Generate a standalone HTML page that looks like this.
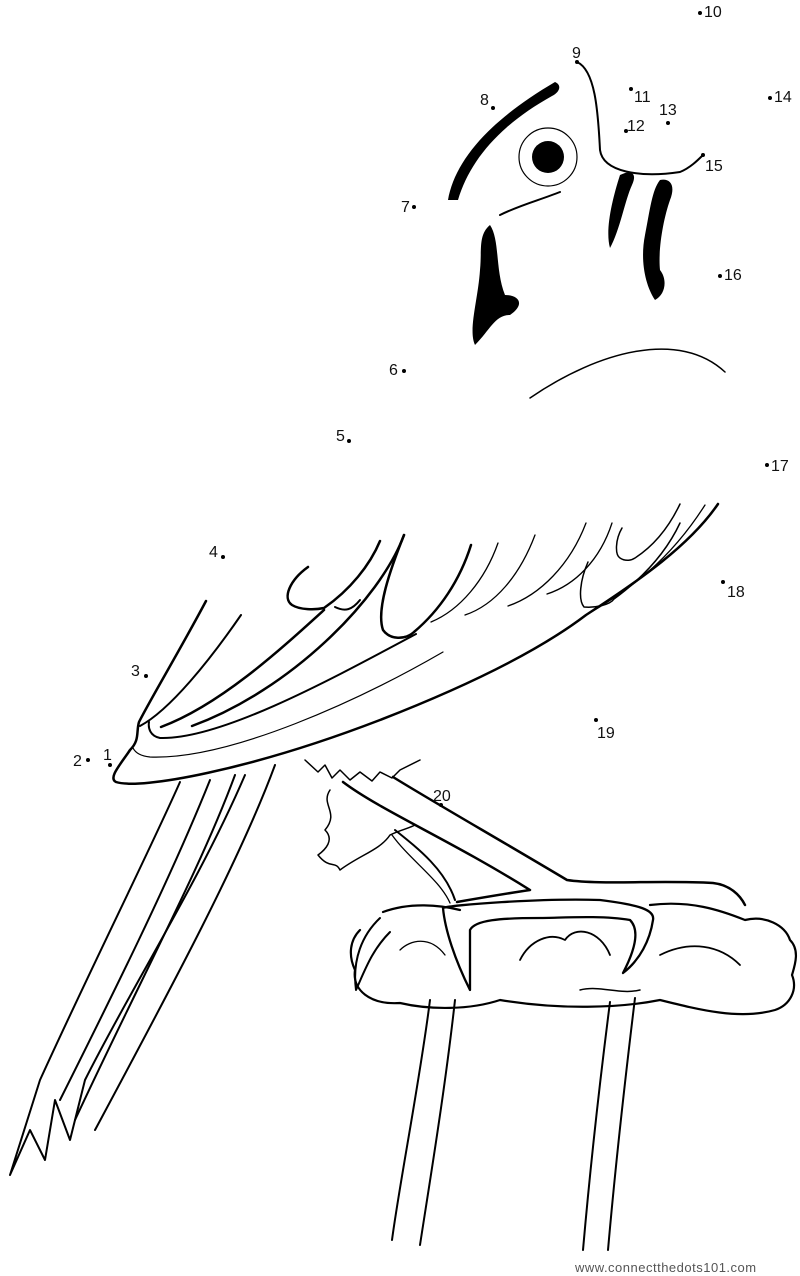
<!DOCTYPE html>
<html><head><meta charset="utf-8"><style>
html,body{margin:0;padding:0;background:#fff;}
svg{display:block}
text{font-family:"Liberation Sans",sans-serif;font-size:16px;fill:#111}
</style></head><body>
<svg width="800" height="1276" viewBox="0 0 800 1276" xmlns="http://www.w3.org/2000/svg">
<g fill="none" stroke="#000" stroke-width="2" stroke-linecap="round" stroke-linejoin="round">
<!-- beak / head -->
<path d="M577,62 C595,70 598,110 600,150 C603,172 640,178 680,172 C690,168 698,160 703,155"/>
<path d="M500,215 C520,205 540,200 560,192"/>
<circle cx="548" cy="157" r="29" stroke-width="1.2"/>
<!-- breast arc -->
<path d="M530,398 C600,350 680,330 725,372" stroke-width="1.5"/>
<!-- wing -->
<path d="M206,601 C180,650 150,700 139,722 C136,732 140,740 130,750 C120,765 108,778 116,782 C140,790 250,770 380,720 C470,685 540,650 586,615 C640,580 690,545 718,504" stroke-width="2.5"/>
<path d="M241,615 C210,660 170,710 140,726" />
<path d="M324,610 C280,650 220,705 161,727" stroke-width="2.5"/>
<path d="M404,535 C380,600 290,690 192,726" stroke-width="2.5"/>
<path d="M416,634 C330,680 220,740 160,738 C150,736 148,728 149,722" stroke-width="2"/>
<path d="M443,652 C360,700 230,760 150,757 C140,756 135,752 133,748" stroke-width="1.2"/>
<path d="M308,567 C290,580 282,598 292,605 C300,610 315,610 324,608 C350,590 370,565 380,541" stroke-width="2.5"/>
<path d="M335,607 C345,612 352,610 360,600"/>
<path d="M404,535 C390,570 376,610 383,630 C390,640 405,640 414,632 C440,610 460,580 471,545" stroke-width="2.5"/>
<path d="M431,622 C460,610 485,580 498,543" stroke-width="1.3"/>
<path d="M465,615 C495,605 520,575 535,535" stroke-width="1.3"/>
<path d="M508,606 C540,595 570,565 586,523" stroke-width="1.3"/>
<path d="M547,594 C575,585 600,560 612,523" stroke-width="1.3"/>
<path d="M588,562 C580,580 578,600 584,607 C595,608 610,605 614,599 C640,580 665,555 680,523" stroke-width="1.5"/>
<path d="M622,528 C615,540 615,555 620,558 C626,562 632,560 635,558 C655,545 670,525 680,504" stroke-width="1.5"/>
<path d="M586,615 C630,590 670,560 705,505" stroke-width="1.3"/>
<!-- tail -->
<path d="M180,782 C150,850 90,970 40,1080 L10,1175 L30,1130 L45,1160 L55,1100 L70,1140 L85,1080 C130,990 200,880 245,775"/>
<path d="M210,780 C170,880 110,1000 60,1100"/>
<path d="M275,765 C240,860 170,990 95,1130"/>
<path d="M235,775 C200,870 140,980 75,1120"/>
<!-- feathers under wing -->
<path d="M305,760 L318,772 L325,765 L332,778 L340,770 L350,780 L360,772 L372,781 L380,772 L392,778 L400,770 L420,760" stroke-width="1.5"/>
<path d="M330,790 C320,805 340,812 325,830 C335,840 325,850 318,855 C330,870 335,860 340,870 C360,855 380,850 390,835 C400,830 410,828 415,825" stroke-width="1.5"/>
<!-- legs -->
<path d="M393,777 C430,800 500,840 567,880 C600,885 660,880 713,883 C730,885 740,895 745,905" stroke-width="2.5"/>
<path d="M343,782 C380,810 450,840 530,890 C510,893 480,898 457,902" stroke-width="2.5"/>
<path d="M395,830 C420,850 445,870 455,900"/>
<path d="M392,835 C410,860 440,880 450,903" stroke-width="1.3"/>
<path d="M443,908 C450,905 540,898 600,900 C640,905 655,910 653,920 C650,940 640,960 623,973 C635,950 640,930 630,920 C600,915 560,918 540,918 C500,918 475,920 470,930 C470,960 470,980 470,990 C455,960 445,930 443,908 Z" stroke-width="2.3"/>
<path d="M380,918 C362,935 352,960 356,990 C365,970 372,950 390,932"/>
<!-- perch top blob -->
<path d="M383,912 C410,902 440,905 460,910 M650,905 C690,900 720,910 745,920 C765,915 785,925 790,940 C800,950 795,965 792,975 C798,990 790,1005 775,1010 C740,1020 700,1010 660,1000 C620,1008 560,1010 500,1000 C470,1010 430,1010 400,1003 C370,1005 352,990 355,970 C348,955 350,940 360,930" stroke-width="2.2"/>
<path d="M520,960 C530,940 550,932 565,940 C575,925 600,930 610,955" stroke-width="1.8"/>
<path d="M400,950 C410,940 430,935 445,955" stroke-width="1.3"/>
<path d="M660,955 C690,940 720,945 740,965" stroke-width="1.8"/>
<path d="M580,990 C600,985 620,995 640,990" stroke-width="1.5"/>
<!-- posts -->
<path d="M430,1000 C420,1080 400,1180 392,1240"/>
<path d="M455,1000 C445,1090 430,1180 420,1245"/>
<path d="M610,1002 C600,1080 590,1170 583,1250"/>
<path d="M635,998 C625,1080 615,1170 608,1250"/>
</g>
<g fill="#000" stroke="none">
<circle cx="548" cy="157" r="16"/>
<path d="M448,200 C455,160 490,120 555,82 C562,85 560,92 552,96 C500,125 470,160 458,200 Z"/>
<path d="M490,225 C500,240 495,270 505,295 C520,295 525,305 510,315 C495,315 490,330 475,345 C468,330 478,300 480,270 C482,250 478,235 490,225 Z"/>
<path d="M620,175 C630,170 638,172 632,185 C625,200 620,230 610,248 C605,230 612,200 620,175 Z"/>
<path d="M660,180 C670,178 676,185 670,200 C663,220 658,250 660,270 C668,280 665,295 655,300 C645,285 640,260 645,235 C650,210 652,190 660,180 Z"/>
<!-- dots -->
<circle cx="110" cy="765" r="2"/><circle cx="88" cy="760" r="2"/>
<circle cx="146" cy="676" r="2"/><circle cx="223" cy="557" r="2"/>
<circle cx="349" cy="441" r="2"/><circle cx="404" cy="371" r="2"/>
<circle cx="414" cy="207" r="2"/><circle cx="493" cy="108" r="2"/>
<circle cx="577" cy="62" r="2"/><circle cx="700" cy="13" r="2"/>
<circle cx="631" cy="89" r="2"/><circle cx="626" cy="131" r="2"/>
<circle cx="668" cy="123" r="2"/><circle cx="770" cy="98" r="2"/>
<circle cx="703" cy="155" r="2"/><circle cx="720" cy="276" r="2"/>
<circle cx="767" cy="465" r="2"/><circle cx="723" cy="582" r="2"/>
<circle cx="596" cy="720" r="2"/><circle cx="441" cy="805" r="2"/>
</g>
<text x="103" y="760">1</text><text x="73" y="766">2</text>
<text x="131" y="676">3</text><text x="209" y="557">4</text>
<text x="336" y="441">5</text><text x="389" y="375">6</text>
<text x="401" y="212">7</text><text x="480" y="105">8</text>
<text x="572" y="58">9</text><text x="704" y="17">10</text>
<text x="634" y="102">11</text><text x="627" y="131">12</text>
<text x="659" y="115">13</text><text x="774" y="102">14</text>
<text x="705" y="171">15</text><text x="724" y="280">16</text>
<text x="771" y="471">17</text><text x="727" y="597">18</text>
<text x="597" y="738">19</text><text x="433" y="801">20</text>
<text x="575" y="1272" style="font-size:13px;fill:#555;letter-spacing:0.5px">www.connectthedots101.com</text>
</svg>
</body></html>
